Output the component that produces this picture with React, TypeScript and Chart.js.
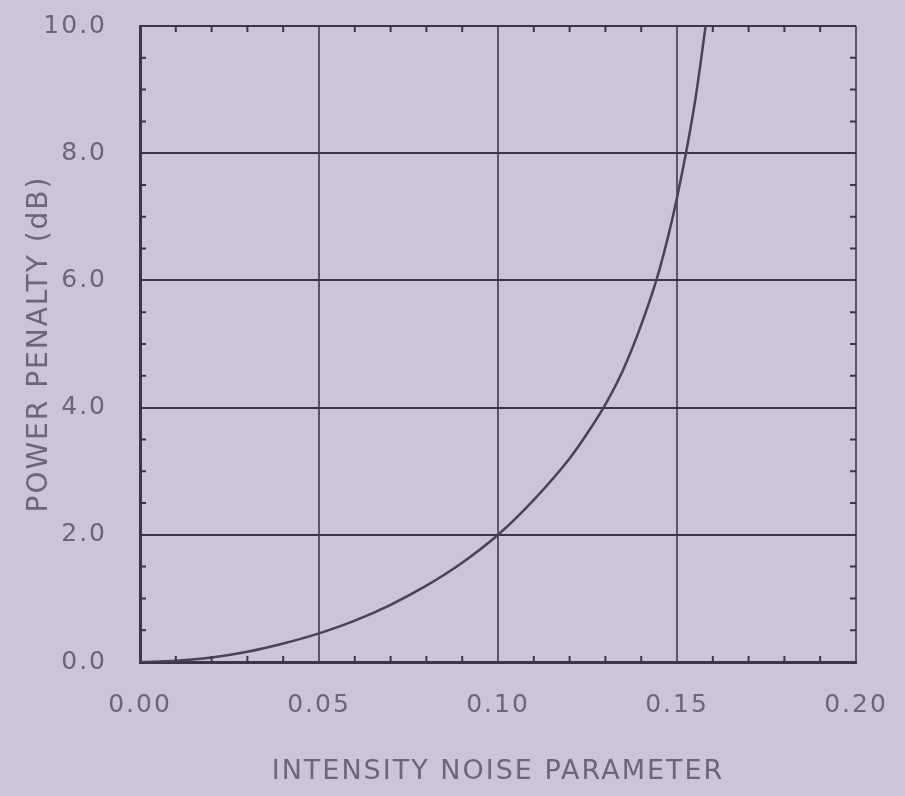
import React, { useEffect, useRef } from "react";
import { Chart, registerables } from "chart.js";

Chart.register(...registerables);

const noiseParameter = [0, 0.01, 0.02, 0.03, 0.04, 0.05, 0.06, 0.07, 0.08, 0.09, 0.1, 0.11, 0.12, 0.125, 0.13, 0.135, 0.14, 0.145, 0.15, 0.155, 0.158];
const powerPenalty = [0, 0.02, 0.07, 0.16, 0.29, 0.45, 0.65, 0.9, 1.2, 1.56, 2.0, 2.55, 3.2, 3.6, 4.05, 4.6, 5.3, 6.15, 7.3, 8.8, 10.0];
const xTicks = [0, 0.05, 0.1, 0.15, 0.2];
const yTicks = [0, 2, 4, 6, 8, 10];

const BG = "#ccc5d7";
const TEXT = "#6c6777";
const DARK = "#3c3744";
const FONT = "DejaVu Sans";

const spacing = {
  id: "spacing",
  beforeLayout(chart: any) { chart.ctx.letterSpacing = "2px"; },
  beforeDraw(chart: any) { chart.ctx.letterSpacing = "2px"; },
};

const minorTicks = {
  id: "minorTicks",
  afterDraw(chart: any) {
    const { ctx, chartArea, scales } = chart;
    const xs = scales.x;
    const ys = scales.y;
    ctx.save();
    ctx.strokeStyle = DARK;
    ctx.lineWidth = 2;
    const len = 6;
    for (let i = 1; i < 20; i++) {
      if (i % 4 === 0) continue;
      const py = ys.getPixelForValue(i * 0.5);
      ctx.beginPath();
      ctx.moveTo(chartArea.left, py);
      ctx.lineTo(chartArea.left + len, py);
      ctx.moveTo(chartArea.right, py);
      ctx.lineTo(chartArea.right - len, py);
      ctx.stroke();
    }
    for (let i = 1; i < 20; i++) {
      if (i % 5 === 0) continue;
      const px = xs.getPixelForValue(i * 0.01);
      ctx.beginPath();
      ctx.moveTo(px, chartArea.top);
      ctx.lineTo(px, chartArea.top + len);
      ctx.moveTo(px, chartArea.bottom);
      ctx.lineTo(px, chartArea.bottom - len);
      ctx.stroke();
    }
    ctx.restore();
  },
};

export default function App() {
  const ref = useRef<HTMLCanvasElement>(null);
  useEffect(() => {
    document.body.style.margin = "0";
    document.body.style.background = BG;
    const chart = new Chart(ref.current!, {
      type: "line",
      data: {
        datasets: [
          {
            data: noiseParameter.map((x, i) => ({ x, y: powerPenalty[i] })),
            borderColor: "#4a4256",
            borderWidth: 2.5,
            pointRadius: 0,
            cubicInterpolationMode: "monotone",
            fill: false,
          },
        ],
      },
      options: {
        animation: false,
        responsive: false,
        layout: { padding: { top: 26, right: 49, left: 0, bottom: 0 } },
        plugins: { legend: { display: false }, tooltip: { enabled: false } },
        scales: {
          x: {
            type: "linear",
            min: 0,
            max: 0.2,
            afterFit: (s: any) => { s.height = 134; s.paddingLeft = 0; s.paddingRight = 0; },
            afterBuildTicks: (s: any) => { s.ticks = xTicks.map((v) => ({ value: v })); },
            ticks: {
              padding: 28,
              color: TEXT,
              font: { family: FONT, size: 25 },
              callback: (v: any) => Number(v).toFixed(2),
              maxRotation: 0,
            },
            grid: { color: "#565a68", lineWidth: 2, drawTicks: false },
            border: { color: DARK, width: 3 },
            title: {
              display: true,
              text: "INTENSITY NOISE PARAMETER",
              color: TEXT,
              font: { family: FONT, size: 27 },
              padding: { top: 10, bottom: 8 },
            },
          },
          y: {
            type: "linear",
            min: 0,
            max: 10,
            afterFit: (s: any) => { s.width = 140; s.paddingTop = 0; s.paddingBottom = 0; },
            afterBuildTicks: (s: any) => { s.ticks = yTicks.map((v) => ({ value: v })); },
            ticks: {
              padding: 33,
              color: TEXT,
              font: { family: FONT, size: 25 },
              callback: (v: any) => Number(v).toFixed(1),
            },
            grid: { color: DARK, lineWidth: 2, drawTicks: false },
            border: { color: DARK, width: 3 },
            title: {
              display: true,
              text: "POWER PENALTY (dB)",
              color: TEXT,
              font: { family: FONT, size: 28 },
              padding: 23,
            },
          },
        },
      },
      plugins: [spacing, minorTicks],
    });
    return () => chart.destroy();
  }, []);
  return (
    <div style={{ width: 905, height: 796, background: BG }}>
      <canvas ref={ref} width={905} height={796} style={{ display: "block" }} />
    </div>
  );
}
